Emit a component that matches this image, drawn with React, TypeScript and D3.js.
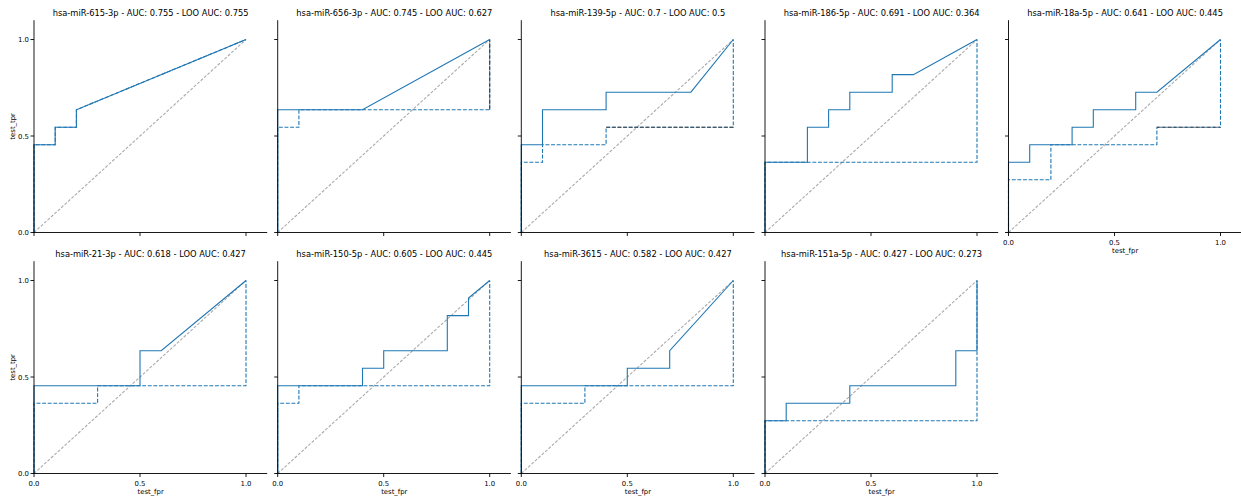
import React from 'react';
import * as d3 from 'd3';

const mirnaNames = [
  'hsa-miR-615-3p', 'hsa-miR-656-3p', 'hsa-miR-139-5p', 'hsa-miR-186-5p', 'hsa-miR-18a-5p',
  'hsa-miR-21-3p', 'hsa-miR-150-5p', 'hsa-miR-3615', 'hsa-miR-151a-5p',
];
const aucLabels = ['0.755', '0.745', '0.7', '0.691', '0.641', '0.618', '0.605', '0.582', '0.427'];
const looAucLabels = ['0.755', '0.627', '0.5', '0.364', '0.445', '0.427', '0.445', '0.427', '0.273'];

// Full-data ROC curves (solid)
const rocFpr = [
  [0, 0, 0.1, 0.1, 0.2, 0.2, 1],
  [0, 0, 0.4, 1],
  [0, 0, 0.1, 0.1, 0.4, 0.4, 0.8, 1],
  [0, 0, 0.2, 0.2, 0.3, 0.3, 0.4, 0.4, 0.6, 0.6, 0.7, 1],
  [0, 0, 0.1, 0.1, 0.3, 0.3, 0.4, 0.4, 0.6, 0.6, 0.7, 1],
  [0, 0, 0.5, 0.5, 0.6, 1],
  [0, 0, 0.4, 0.4, 0.5, 0.5, 0.8, 0.8, 0.9, 0.9, 1],
  [0, 0, 0.5, 0.5, 0.7, 0.7, 1],
  [0, 0, 0.1, 0.1, 0.4, 0.4, 0.9, 0.9, 1, 1],
];
const rocTpr = [
  [0, 0.455, 0.455, 0.545, 0.545, 0.636, 1],
  [0, 0.636, 0.636, 1],
  [0, 0.455, 0.455, 0.636, 0.636, 0.727, 0.727, 1],
  [0, 0.364, 0.364, 0.545, 0.545, 0.636, 0.636, 0.727, 0.727, 0.818, 0.818, 1],
  [0, 0.364, 0.364, 0.455, 0.455, 0.545, 0.545, 0.636, 0.636, 0.727, 0.727, 1],
  [0, 0.455, 0.455, 0.636, 0.636, 1],
  [0, 0.455, 0.455, 0.545, 0.545, 0.636, 0.636, 0.818, 0.818, 0.909, 1],
  [0, 0.455, 0.455, 0.545, 0.545, 0.636, 1],
  [0, 0.273, 0.273, 0.364, 0.364, 0.455, 0.455, 0.636, 0.636, 1],
];

// Leave-one-out ROC curves (dashed)
const looFpr = [
  [0, 0, 0.1, 0.1, 0.2, 0.2, 1],
  [0, 0, 0.1, 0.1, 1, 1],
  [0, 0, 0.1, 0.1, 0.4, 0.4, 1, 1],
  [0, 0, 1, 1],
  [0, 0, 0.2, 0.2, 0.7, 0.7, 1, 1],
  [0, 0, 0.3, 0.3, 1, 1],
  [0, 0, 0.1, 0.1, 1, 1],
  [0, 0, 0.3, 0.3, 1, 1],
  [0, 0, 1, 1],
];
const looTpr = [
  [0, 0.455, 0.455, 0.545, 0.545, 0.636, 1],
  [0, 0.545, 0.545, 0.636, 0.636, 1],
  [0, 0.364, 0.364, 0.455, 0.455, 0.545, 0.545, 1],
  [0, 0.364, 0.364, 1],
  [0, 0.273, 0.273, 0.455, 0.455, 0.545, 0.545, 1],
  [0, 0.364, 0.364, 0.455, 0.455, 1],
  [0, 0.364, 0.364, 0.455, 0.455, 1],
  [0, 0.364, 0.364, 0.455, 0.455, 1],
  [0, 0.273, 0.273, 1],
];
// index of the LOO segment that appears in dark grey (-1 = none)
const looDarkSegment = [-1, 4, 5, -1, 5, -1, -1, -1, -1];

const tickValues = [0, 0.5, 1.0];
const tickLabels = ['0.0', '0.5', '1.0'];

const FONT = '"DejaVu Sans", sans-serif';
const BLUE = '#1f77b4';
const DARK = '#404040';

const colX0 = [34, 277.7, 521.3, 765, 1008.5];
const rowY0 = [232.5, 473.5];
const unitX = 212;
const unitY = 193;

function Panel({ i }: { i: number }) {
  const row = Math.floor(i / 5);
  const col = i % 5;
  const x0 = colX0[col];
  const y0 = rowY0[row];
  const x = d3.scaleLinear().domain([0, 1.1]).range([x0, x0 + 1.1 * unitX]);
  const y = d3.scaleLinear().domain([0, 1.1]).range([y0, y0 - 1.1 * unitY]);
  const line = d3.line<[number, number]>().x(d => x(d[0])).y(d => y(d[1]));
  const solidPts = rocFpr[i].map((f, k) => [f, rocTpr[i][k]] as [number, number]);
  const looPts = looFpr[i].map((f, k) => [f, looTpr[i][k]] as [number, number]);
  const dk = looDarkSegment[i];
  const showXLabels = i + 5 >= mirnaNames.length;
  const showYLabels = col === 0;
  const [xl, xr] = x.range();
  const [yb, yt] = y.range();
  const title = `${mirnaNames[i]} - AUC: ${aucLabels[i]} - LOO AUC: ${looAucLabels[i]}`;
  return (
    <g>
      <path d={line([[0, 0], [1, 1]]) || ''} fill="none" stroke="#ababab" strokeWidth={1.1} strokeDasharray="3,1.6" />
      <path d={line(looPts) || ''} fill="none" stroke={BLUE} strokeWidth={1.1} strokeDasharray="3.9,1.7" />
      {dk >= 0 && (
        <path d={line([looPts[dk], looPts[dk + 1]]) || ''} fill="none" stroke={DARK} strokeWidth={1.1} strokeDasharray="3.9,1.7" />
      )}
      <path d={line(solidPts) || ''} fill="none" stroke={BLUE} strokeWidth={1.1} />
      {/* spines */}
      <line x1={xl - 1} x2={xr} y1={yb} y2={yb} stroke="#000" strokeWidth={0.9} />
      <line x1={xl} x2={xl} y1={yb} y2={yt} stroke="#000" strokeWidth={0.9} />
      {tickValues.map((t, k) => (
        <g key={'xt' + k}>
          <line x1={x(t)} x2={x(t)} y1={yb} y2={yb + 3.5} stroke="#000" strokeWidth={0.9} />
          {showXLabels && (
            <text x={x(t)} y={yb + 12} fontSize={6.9} fontFamily={FONT} textAnchor="middle" fill="#000">{tickLabels[k]}</text>
          )}
        </g>
      ))}
      {tickValues.map((t, k) => (
        <g key={'yt' + k}>
          <line x1={xl - 3.5} x2={xl} y1={y(t)} y2={y(t)} stroke="#000" strokeWidth={0.9} />
          {showYLabels && (
            <text x={xl - 5} y={y(t) + 2.5} fontSize={6.9} fontFamily={FONT} textAnchor="end" fill="#000">{tickLabels[k]}</text>
          )}
        </g>
      ))}
      {showXLabels && (
        <text x={(xl + xr) / 2} y={yb + 20.5} fontSize={6.9} fontFamily={FONT} textAnchor="middle" fill="#000">test_fpr</text>
      )}
      {showYLabels && (
        <text transform={`translate(14.5,${(yb + yt) / 2}) rotate(-90)`} fontSize={6.9} fontFamily={FONT} textAnchor="middle" fill="#000">test_tpr</text>
      )}
      <text x={(xl + xr) / 2} y={yt - 4.2} fontSize={8.3} fontFamily={FONT} textAnchor="middle" fill="#000">{title}</text>
    </g>
  );
}

export default function App() {
  return (
    <svg width={1241} height={499} style={{ position: 'absolute', left: 0, top: 0, background: '#fff' }}>
      <rect width={1241} height={499} fill="#fff" />
      {mirnaNames.map((_, i) => <Panel key={i} i={i} />)}
    </svg>
  );
}
